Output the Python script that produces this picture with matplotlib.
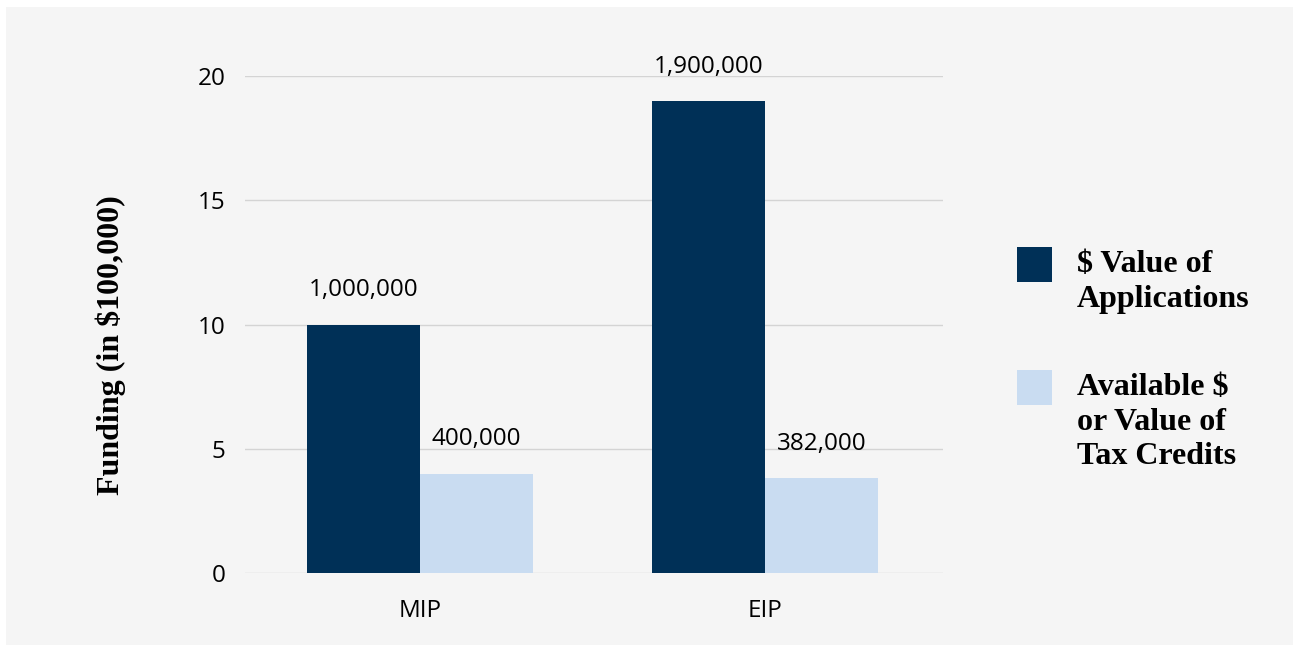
import matplotlib.pyplot as plt
import numpy as np
from matplotlib.patches import Rectangle

# data
categories = ['MIP', 'EIP']
applications = [10.0, 19.0]
available = [4.0, 3.82]
app_labels = ['1,000,000', '1,900,000']
avail_labels = ['400,000', '382,000']
series_names = ['$ Value of\nApplications', 'Available $\nor Value of\nTax Credits']
yticks = [0, 5, 10, 15, 20]

dark = '#003057'
light = '#c9dcf1'
panel = '#f5f5f5'

W, H = 1299, 651
fig = plt.figure(figsize=(W / 100, H / 100), dpi=100, facecolor='white')
fig.add_artist(Rectangle((6 / W, 6 / H), (W - 12) / W, (H - 13) / H,
                         transform=fig.transFigure, facecolor=panel,
                         edgecolor='none', zorder=-10))

ax = fig.add_axes([245 / W, (H - 573) / H, (943 - 245) / W, (573 - 76) / H])
ax.patch.set_alpha(0)

x = np.arange(len(categories))
bw = 0.328
b1 = ax.bar(x - bw / 2, applications, bw, color=dark, zorder=3)
b2 = ax.bar(x + bw / 2, available, bw, color=light, zorder=3)

tick_font = 'Open Sans'
for rect, lab in zip(b1, app_labels):
    ax.annotate(lab, (rect.get_x() + rect.get_width() / 2, rect.get_height()),
                xytext=(0, 16), textcoords='offset points', ha='center', va='bottom',
                fontsize=17.5, family=tick_font)
for rect, lab in zip(b2, avail_labels):
    ax.annotate(lab, (rect.get_x() + rect.get_width() / 2, rect.get_height()),
                xytext=(0, 16), textcoords='offset points', ha='center', va='bottom',
                fontsize=17.5, family=tick_font)

ax.set_xlim(-0.507, 1.516)
ax.set_ylim(0, 20)
ax.set_yticks(yticks)
ax.set_xticks(x)
ax.set_xticklabels(categories)
ax.grid(axis='y', color='#d4d4d4', linewidth=1, zorder=0)
ax.tick_params(axis='both', length=0, labelsize=17.5)
ax.tick_params(axis='y', pad=14)
ax.tick_params(axis='x', pad=19)
for lab in ax.get_xticklabels() + ax.get_yticklabels():
    lab.set_family(tick_font)
for s in ax.spines.values():
    s.set_visible(False)

ax.set_ylabel('Funding (in $100,000)', fontsize=23, fontweight='bold',
              family='Liberation Serif', va='center')
ax.yaxis.set_label_coords(-0.193, 0.458)

# legend drawn by hand
leg_font = dict(fontsize=23, fontweight='bold', family='Liberation Serif',
                va='top', ha='left', linespacing=1.25)
for top, col, name in [(247, dark, series_names[0]), (370, light, series_names[1])]:
    fig.add_artist(Rectangle((1017 / W, (H - top - 35) / H), 35 / W, 35 / H,
                             transform=fig.transFigure, facecolor=col, edgecolor='none'))
    fig.text(1077 / W, (H - top - 3) / H, name, **leg_font)

fig.savefig('out.png', dpi=100, facecolor='white')
